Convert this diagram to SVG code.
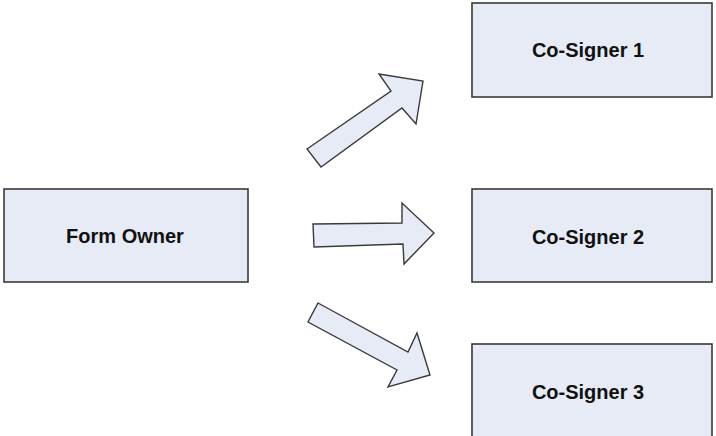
<svg xmlns="http://www.w3.org/2000/svg" width="716" height="436" viewBox="0 0 716 436">
  <style>
    .box { fill: #e7ebf6; stroke: #3a3a3a; stroke-width: 1.6; }
    .arrow { fill: #e7ebf6; stroke: #3a3a3a; stroke-width: 1.4; stroke-linejoin: miter; }
    .label { font-family: "Liberation Sans", Arial, sans-serif; font-weight: bold; font-size: 20px; fill: #111; text-anchor: middle; dominant-baseline: central; }
  </style>
  <rect width="716" height="436" fill="#ffffff"/>

  <g id="form-owner">
    <rect class="box" x="4" y="189" width="244" height="93"/>
    <text class="label" x="125" y="236">Form Owner</text>
  </g>

  <g id="co-signer-1">
    <rect class="box" x="472" y="3" width="240" height="94"/>
    <text class="label" x="588" y="50">Co-Signer 1</text>
  </g>

  <g id="co-signer-2">
    <rect class="box" x="472" y="189" width="240" height="93"/>
    <text class="label" x="588" y="237">Co-Signer 2</text>
  </g>

  <!-- lower box runs past the bottom edge of the canvas -->
  <g id="co-signer-3">
    <rect class="box" x="472" y="344" width="240" height="100"/>
    <text class="label" x="588" y="392">Co-Signer 3</text>
  </g>

  <g id="connectors">
    <polygon class="arrow" points="307,149 391,91 379,74 423,81 416,124 402,108 321,167"/>
    <polygon class="arrow" points="313,224 402,223 402,203 434,233 404,264 403,244 314,247"/>
    <polygon class="arrow" points="318,303 408,352 417,333 430,375 388,387 397,370 308,322"/>
  </g>
</svg>
